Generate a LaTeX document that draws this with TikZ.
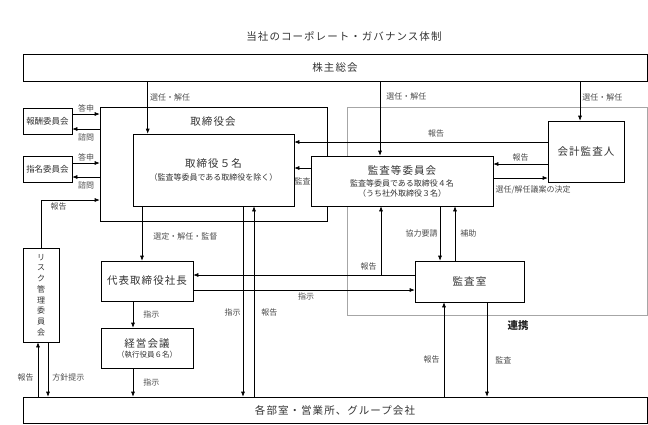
\documentclass[tikz,border=0pt]{standalone}
\usepackage{fontspec}
\setmainfont{Noto Sans CJK JP}
\newfontfamily\widejp[LetterSpace=10]{Noto Sans CJK JP}
\usepackage{tikz}
\usetikzlibrary{arrows.meta, positioning, calc}

\begin{document}
\begin{tikzpicture}[x=1pt,y=-1pt,>={Latex[length=5pt,width=4pt]},semithick,
				box/.style={draw,fill=white,inner sep=0pt,text=black!80},
				big text/.style={font=\widejp\fontsize{10.5}{12}\selectfont},
				lbl/.style={font=\fontsize{8}{9}\selectfont,text=black!70,inner sep=2pt}]
				
				\useasboundingbox (0,0) rectangle (648,424);
				
				\node[big text,text=black!80] (title) at (344,36) {当社のコーポレート・ガバナンス体制};
				
				% frames
				\node[draw,inner sep=0pt,minimum width=227,minimum height=114] (board) at (213.5,164) {};
				\node[big text,text=black!80] (boardlbl) at (213,122) {取締役会};
				\node[draw=black!35,inner sep=0pt,minimum width=300,minimum height=208] (auditarea) at (497,211) {};
				
				\node[box,big text,minimum width=624,minimum height=27] (kabu) at (335,67.5) {株主総会};
				\node[box,big text,minimum width=624,minimum height=26] (bumon) at (335,410) {各部室・営業所、グループ会社};
				\node[box,minimum width=161,minimum height=72,align=center,font=\fontsize{8}{10}\selectfont] (tori) at (213.5,170)
					{{\widejp\fontsize{10.5}{12}\selectfont 取締役５名}\\[3pt]（監査等委員である取締役を除く）};
				\node[box,minimum width=182,minimum height=50,align=center,font=\fontsize{8}{10}\selectfont] (kansatou) at (402,181)
					{{\widejp\fontsize{10.5}{12}\selectfont 監査等委員会}\\[2pt]監査等委員である取締役４名\\（うち社外取締役３名）};
				\node[box,big text,minimum width=76,minimum height=61] (kaikei) at (586,151.5) {会計監査人};
				\node[box,big text,minimum width=109,minimum height=41] (kansashitsu) at (469.5,281.5) {監査室};
				\node[box,big text,minimum width=92,minimum height=40] (daihyo) at (147,281) {代表取締役社長};
				\node[box,minimum width=92,minimum height=40,align=center,font=\fontsize{7.5}{10}\selectfont] (keiei) at (147,348)
					{{\widejp\fontsize{10.5}{12}\selectfont 経営会議}\\（執行役員６名）};
				\node[box,minimum width=49,minimum height=26,font=\fontsize{8.5}{10}\selectfont] (houshu) at (47.5,121) {報酬委員会};
				\node[box,minimum width=49,minimum height=26,font=\fontsize{8.5}{10}\selectfont] (shimei) at (47.5,169) {指名委員会};
				\node[box,minimum width=36,minimum height=94,align=center,font=\fontsize{8}{10.7}\selectfont] (risk) at (41,295)
					{リ\\ス\\ク\\管\\理\\委\\員\\会};
				\node[font=\bfseries\fontsize{10.5}{12}\selectfont,text=black!85] (renkei) at (518,326) {連携};
				
				% shareholders
				\draw[->] ([xshift=15pt]tori.north west |- kabu.south) -- ([xshift=15pt]tori.north west) node[lbl,pos=0.3,right] {選任・解任};
				\draw[->] ([xshift=-22pt]kansatou.north |- kabu.south) -- ([xshift=-22pt]kansatou.north) node[lbl,pos=0.2,right,xshift=4pt] {選任・解任};
				\draw[->] ([xshift=-6pt]kaikei.north |- kabu.south) -- ([xshift=-6pt]kaikei.north) node[lbl,pos=0.4,right] {選任・解任};
				
				% committees
				\draw[->] ([yshift=7pt]houshu.east) -- ([yshift=7pt]houshu.east -| board.west) node[lbl,midway,above] {答申};
				\draw[->] ([yshift=-8pt]houshu.east -| board.west) -- ([yshift=-8pt]houshu.east) node[lbl,midway,below=2pt] {諮問};
				\draw[->] ([yshift=6pt]shimei.east) -- ([yshift=6pt]shimei.east -| board.west) node[lbl,midway,above] {答申};
				\draw[->] ([yshift=-8pt]shimei.east -| board.west) -- ([yshift=-8pt]shimei.east) node[lbl,midway,below=2pt] {諮問};
				\draw[->] (risk.north) |- ([yshift=-36pt]board.west) node[lbl,pos=0.65,below] {報告};
				\draw[->] ([xshift=-3pt]risk.south |- bumon.north) -- ([xshift=-3pt]risk.south) node[lbl,pos=0.36,left,xshift=-2pt] {報告};
				\draw[->] ([xshift=7pt]risk.south) -- ([xshift=7pt]risk.south |- bumon.north) node[lbl,pos=0.64,right,xshift=2pt] {方針提示};
				
				% execution
				\draw[->] ([xshift=-5pt]daihyo.north |- tori.south) -- ([xshift=-5pt]daihyo.north) node[lbl,pos=0.56,right,xshift=9pt] {選定・解任・監督};
				\draw[->] ([xshift=-14pt]daihyo.south) -- ([xshift=-14pt]keiei.north) node[lbl,midway,right,xshift=8pt] {指示};
				\draw[->] ([xshift=-14pt]keiei.south) -- ([xshift=-14pt]keiei.south |- bumon.north) node[lbl,midway,right,xshift=8pt] {指示};
				\draw[->] ([xshift=29.5pt]tori.south) -- ([xshift=29.5pt]tori.south |- bumon.north) node[lbl,pos=0.56,left] {指示};
				\draw[->] ([xshift=40.5pt]tori.south |- bumon.north) -- ([xshift=40.5pt]tori.south) node[lbl,pos=0.44,right,xshift=5pt] {報告};
				
				% audit
				\draw[->] ([yshift=9.5pt]kaikei.west) -- ([yshift=9.5pt]kaikei.west -| tori.east) node[lbl,pos=0.44,above,yshift=2pt] {報告};
				\draw[->] ([yshift=-12.5pt]kaikei.west) -- ([yshift=-12.5pt]kaikei.west -| kansatou.east) node[lbl,midway,above] {報告};
				\draw[->] ([yshift=3pt]kansatou.east) -- ([yshift=3pt]kansatou.east -| kaikei.west) node[lbl,pos=0,below right,yshift=-5pt] {選任/解任議案の決定};
				\draw[->] ([yshift=13pt]kansatou.west) -- ([yshift=13pt]kansatou.west -| tori.east) node[lbl,midway,below,inner sep=0pt,yshift=-9pt] {監査};
				\draw[->] ([xshift=-29.5pt]kansashitsu.north |- kansatou.south) -- ([xshift=-29.5pt]kansashitsu.north) node[lbl,midway,left] {協力要請};
				\draw[->] ([xshift=-14.5pt]kansashitsu.north) -- ([xshift=-14.5pt]kansashitsu.north |- kansatou.south) node[lbl,midway,right,xshift=3pt] {補助};
				\coordinate (rep) at ([yshift=6.5pt]kansashitsu.west);
				\draw[->] (rep) -- (rep -| daihyo.east);
				\draw[->] ([xshift=-21pt]kansatou.south |- rep) -- ([xshift=-21pt]kansatou.south) node[lbl,pos=0.13,left,xshift=-2pt] {報告};
				\draw[->] ([yshift=-9pt]daihyo.east) -- ([yshift=-9pt]daihyo.east -| kansashitsu.west) node[lbl,pos=0.51,below] {指示};
				\draw[->] ([xshift=-25.5pt]kansashitsu.south |- bumon.north) -- ([xshift=-25.5pt]kansashitsu.south) node[lbl,pos=0.39,left,xshift=-2pt] {報告};
				\draw[->] ([xshift=17.5pt]kansashitsu.south) -- ([xshift=17.5pt]kansashitsu.south |- bumon.north) node[lbl,pos=0.62,right,xshift=6pt] {監査};
			\end{tikzpicture}
\end{document}
